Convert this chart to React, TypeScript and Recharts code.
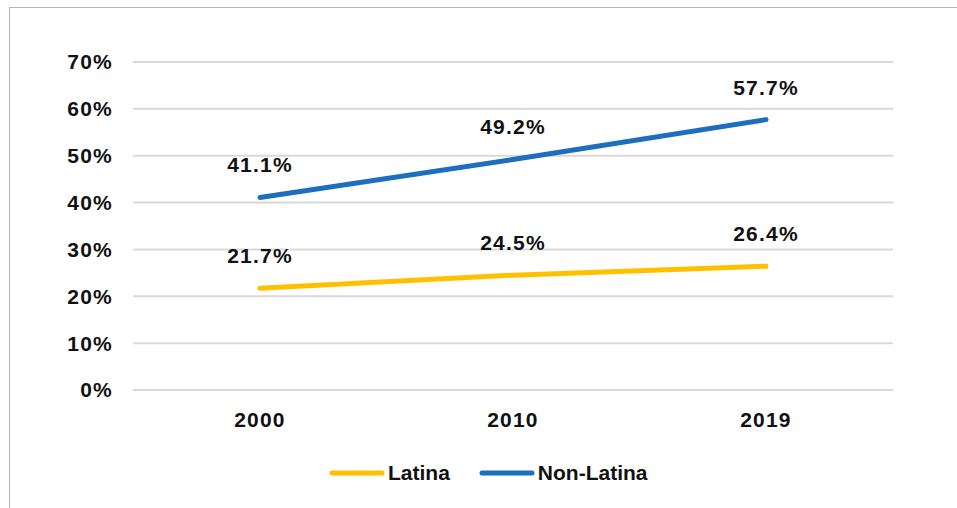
import { LabelList, Legend, Line, LineChart, XAxis, YAxis, CartesianGrid } from "recharts";

const years = ["2000", "2010", "2019"];
const latina = [21.7, 24.5, 26.4];
const nonLatina = [41.1, 49.2, 57.7];
const yTicks = [0, 10, 20, 30, 40, 50, 60, 70];

const LATINA_COLOR = "#FFC000";
const NON_LATINA_COLOR = "#1C6FBE";
const FONT = "'Liberation Sans', Arial, sans-serif";

const rows = years.map((year, i) => ({
  year,
  latina: latina[i],
  nonLatina: nonLatina[i],
}));

const series = [
  { key: "latina", name: "Latina", color: LATINA_COLOR },
  { key: "nonLatina", name: "Non-Latina", color: NON_LATINA_COLOR },
];

const pct = (v: number) => `${v.toFixed(1)}%`;

function LegendRow() {
  return (
    <div style={{ display: "flex", alignItems: "center", fontFamily: FONT }}>
      {series.map((s, i) => (
        <div
          key={s.key}
          style={{ display: "flex", alignItems: "center", marginLeft: i ? 29 : 0 }}
        >
          <svg width={56} height={8}>
            <line
              x1={3}
              y1={4}
              x2={53}
              y2={4}
              stroke={s.color}
              strokeWidth={5}
              strokeLinecap="round"
            />
          </svg>
          <span style={{ fontSize: 21, fontWeight: 700, color: "#111", marginLeft: 3 }}>
            {s.name}
          </span>
        </div>
      ))}
    </div>
  );
}

export default function App() {
  const tickStyle = {
    fill: "#111",
    fontSize: 21,
    fontWeight: 700,
    fontFamily: FONT,
    letterSpacing: 1.2,
  };

  return (
    <div
      style={{
        position: "absolute",
        left: 0,
        top: 0,
        width: 957,
        height: 508,
        overflow: "hidden",
        background: "#fff",
      }}
    >
      <div
        style={{
          position: "absolute",
          left: 9,
          top: 7,
          width: 980,
          height: 540,
          border: "1.5px solid #b4b4b4",
        }}
      />
      <LineChart
        width={957}
        height={508}
        data={rows}
        margin={{ top: 62, right: 64, bottom: 78, left: 0 }}
      >
        <CartesianGrid vertical={false} stroke="#d9d9d9" strokeWidth={2} />
        <XAxis
          dataKey="year"
          axisLine={false}
          tickLine={false}
          tickMargin={16}
          height={40}
          padding={{ left: 127, right: 127 }}
          tick={tickStyle}
        />
        <YAxis
          domain={[0, 70]}
          ticks={yTicks}
          tickFormatter={(v: number) => `${v}%`}
          axisLine={false}
          tickLine={false}
          tickMargin={14}
          width={133}
          tick={tickStyle}
        />
        <Legend
          layout="horizontal"
          verticalAlign="middle"
          wrapperStyle={{ position: "absolute", left: 329, top: 461, width: "auto" }}
          content={() => <LegendRow />}
        />
        {series.map((s) => (
          <Line
            key={s.key}
            type="linear"
            dataKey={s.key}
            name={s.name}
            stroke={s.color}
            strokeWidth={5}
            strokeLinecap="round"
            dot={false}
            activeDot={false}
            isAnimationActive={false}
          >
            <LabelList
              dataKey={s.key}
              position="top"
              offset={25}
              formatter={(v: number) => pct(v)}
              style={tickStyle}
            />
          </Line>
        ))}
      </LineChart>
    </div>
  );
}
